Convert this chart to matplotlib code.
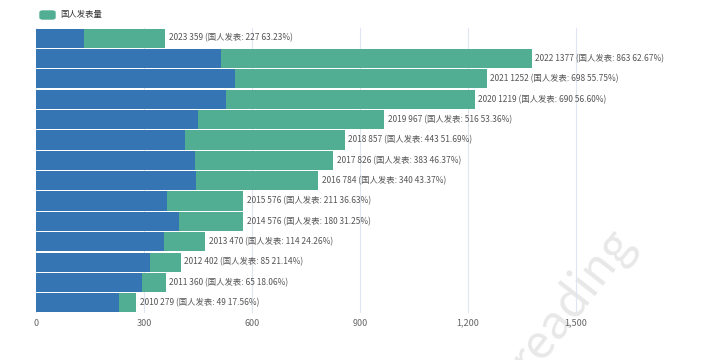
import matplotlib
matplotlib.use("Agg")
import matplotlib.pyplot as plt
from matplotlib.patches import FancyBboxPatch

plt.rcParams['font.family'] = ['Noto Sans CJK SC', 'DejaVu Sans']

years = ['2010', '2011', '2012', '2013', '2014', '2015', '2016', '2017', '2018', '2019', '2020', '2021', '2022', '2023']
totals = [279, 360, 402, 470, 576, 576, 784, 826, 857, 967, 1219, 1252, 1377, 359]
domestic = [49, 65, 85, 114, 180, 211, 340, 383, 443, 516, 690, 698, 863, 227]
xticks = [0, 300, 600, 900, 1200, 1500]
legend_label = '国人发表量'

others = [t - d for t, d in zip(totals, domestic)]

BLUE = '#3575b4'
GREEN = '#52ae92'
TXT = '#666666'

fig = plt.figure(figsize=(7.2, 3.6), dpi=100)
ax = fig.add_axes([36/720, 1 - 313/360, (684 - 36)/720, (313 - 28)/360])
ax.set_facecolor('none')

ypos = list(range(len(years)))
ax.barh(ypos, others, height=0.94, color=BLUE, zorder=2)
ax.barh(ypos, domestic, left=others, height=0.94, color=GREEN, zorder=2)

for i, (y, t, d) in enumerate(zip(years, totals, domestic)):
    pct = d / t * 100
    ax.text(t + 10, i, f'{y} {t} (国人发表: {d} {pct:.2f}%)', va='center', ha='left',
            fontsize=6, color='#555555', zorder=3)

ax.set_xlim(0, 1800)
ax.set_ylim(-0.5, len(years) - 0.5)
ax.set_xticks(xticks)
ax.set_xticklabels([f'{v:,}' for v in xticks], fontsize=6.5, color=TXT)
ax.set_yticks([])
ax.tick_params(axis='x', length=0, pad=4)
ax.grid(axis='x', color='#e0e6f1', linewidth=0.8, zorder=0)
for s in ax.spines.values():
    s.set_visible(False)

# legend
box = FancyBboxPatch((40/720, 1 - 19/360), 15/720, 8/360, boxstyle='round,pad=0,rounding_size=0.004',
                     transform=fig.transFigure, color=GREEN)
fig.patches.append(box)
fig.text(60/720, 1 - 15/360, legend_label, fontsize=6, color='#333333', va='center', ha='left')

# watermark (partly outside the canvas, as in the reference)
fig.text(572/720, 1 - 300/360, 'reading', fontsize=34, color='#e8e8e8', rotation=52,
         ha='center', va='center', zorder=-1)

fig.savefig('out.png', dpi=100)
